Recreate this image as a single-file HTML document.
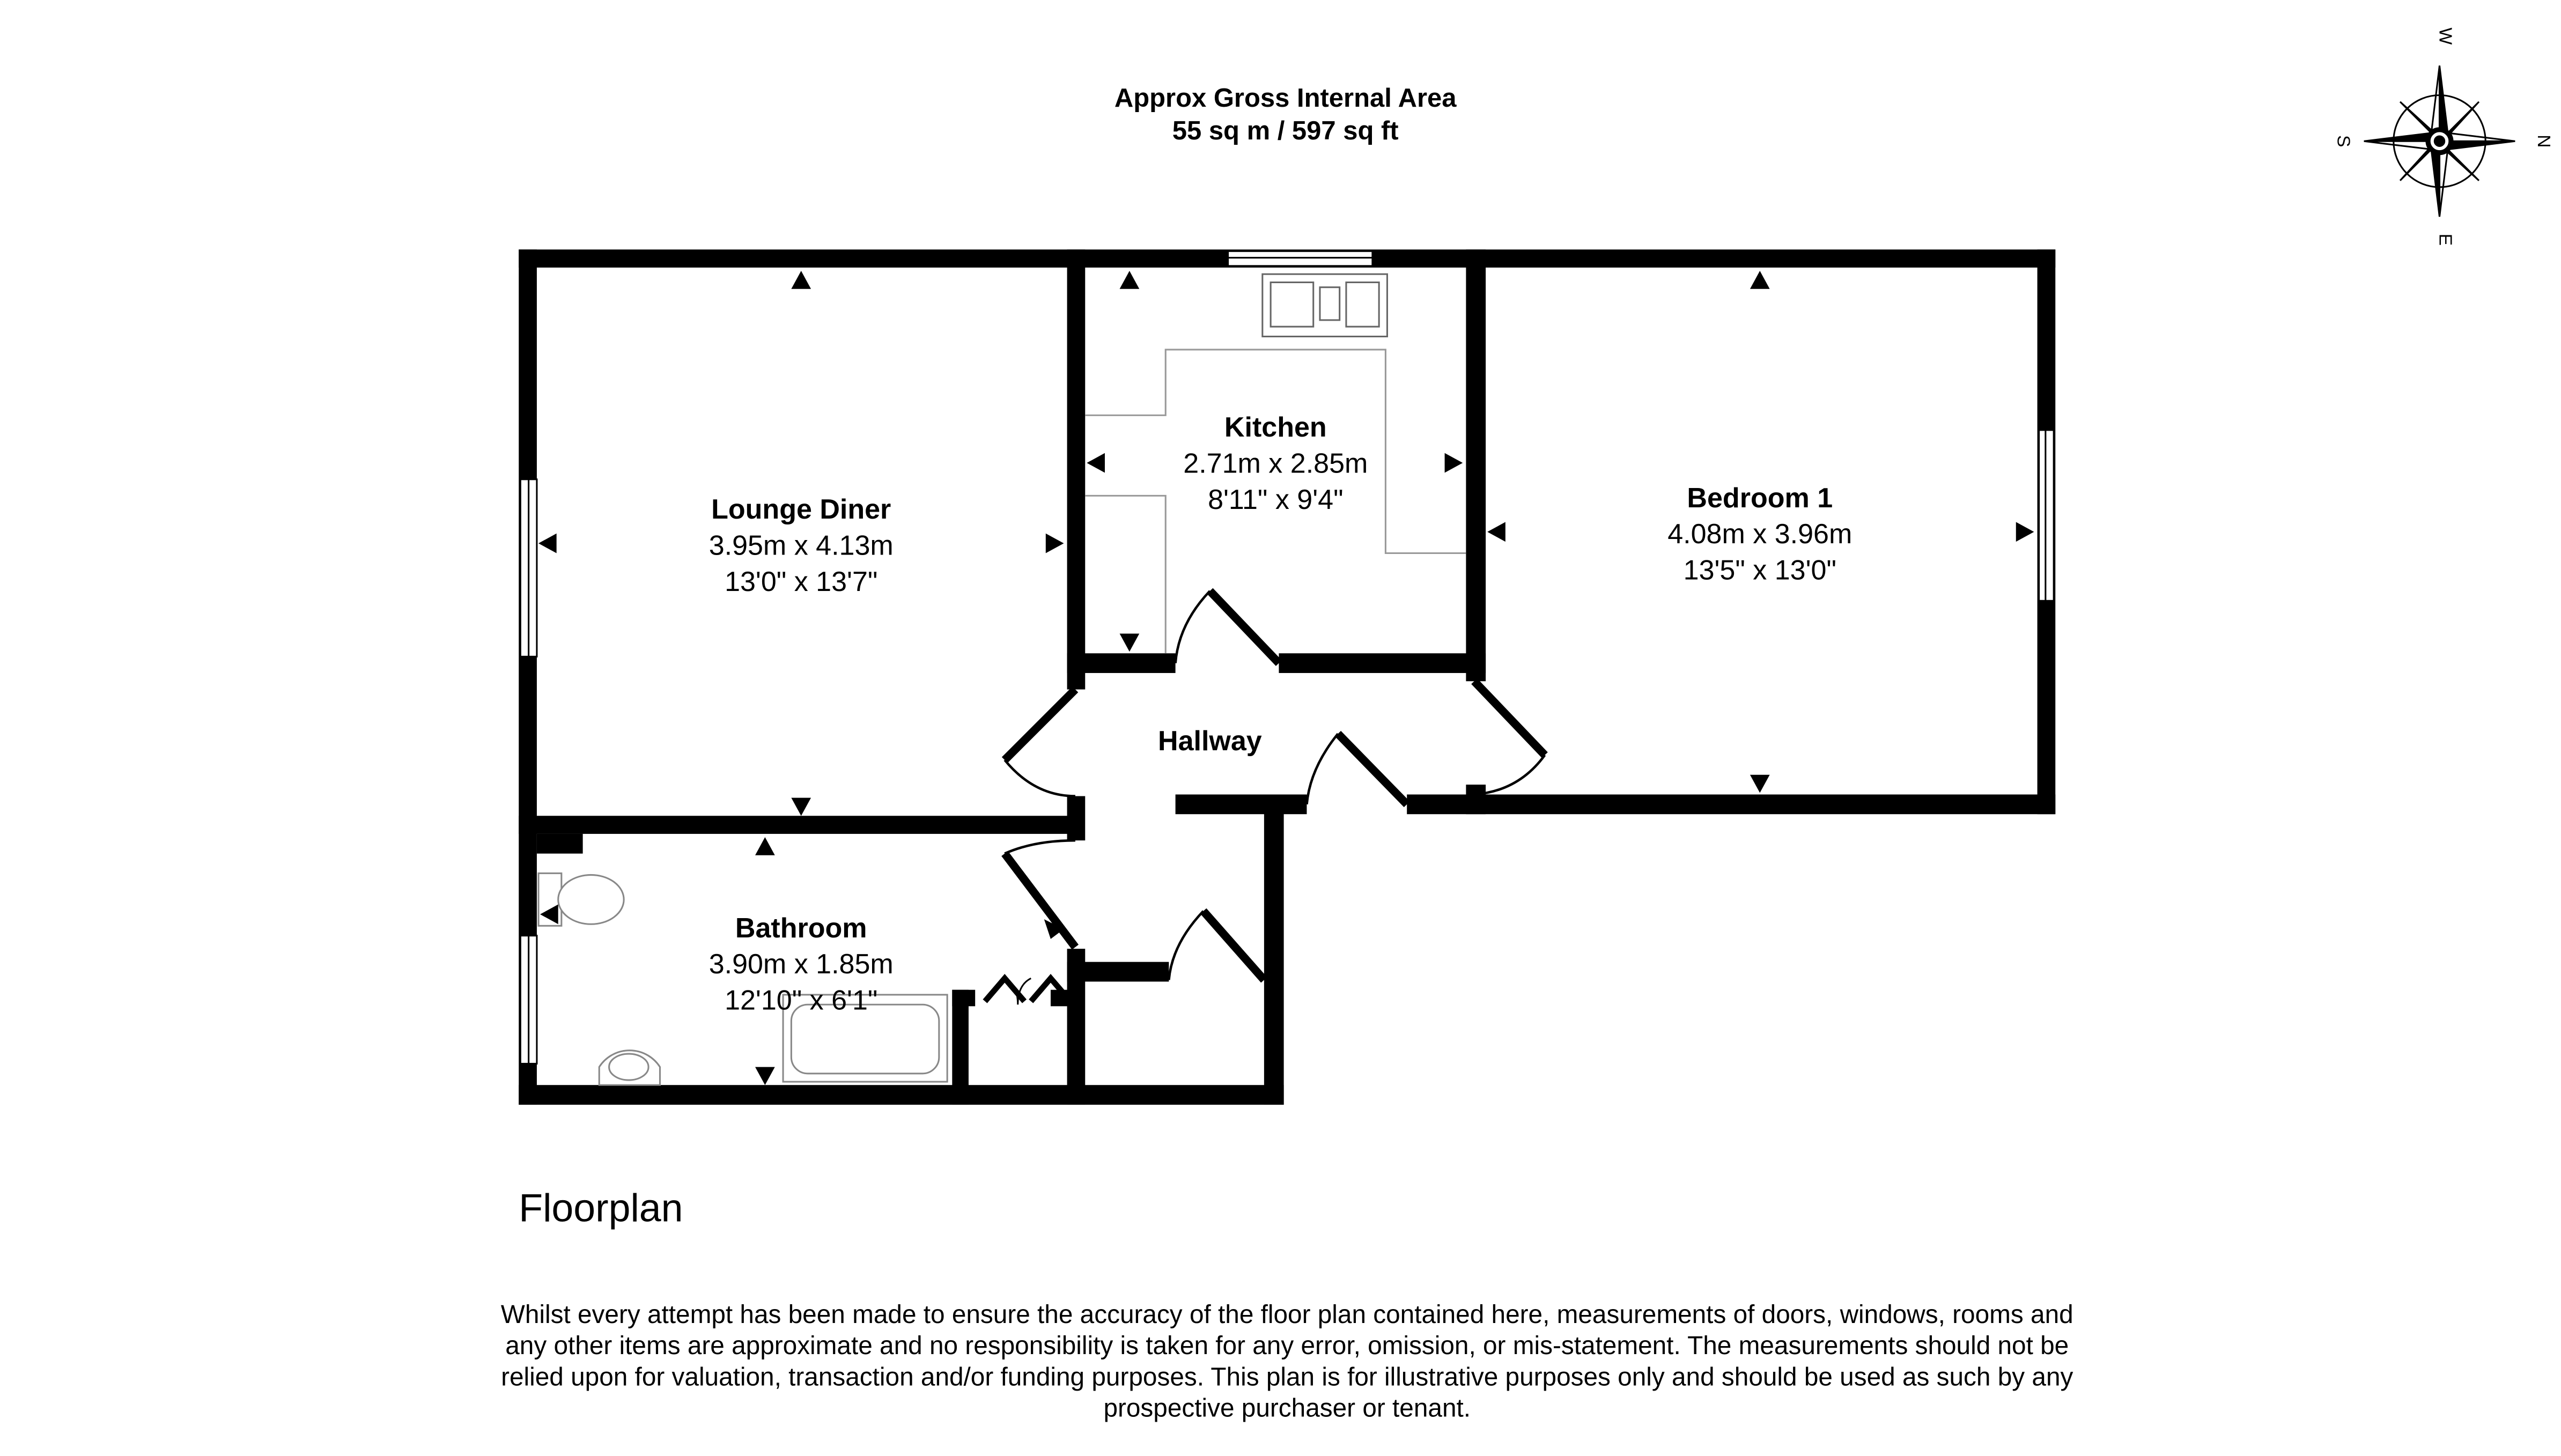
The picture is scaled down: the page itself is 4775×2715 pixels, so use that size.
<!DOCTYPE html>
<html><head><meta charset="utf-8"><style>
html,body{margin:0;padding:0;background:#fff;}
svg{display:block;}
text{font-family:"Liberation Sans",Arial,sans-serif;fill:#000;}
</style></head><body>
<svg width="4775" height="2715" viewBox="0 0 1560 887" preserveAspectRatio="none" xmlns="http://www.w3.org/2000/svg">
<rect width="1560" height="887" fill="#fff"/>
<text x="783" y="65" font-size="16" font-weight="bold" text-anchor="middle">Approx Gross Internal Area</text>
<text x="783" y="85" font-size="16" font-weight="bold" text-anchor="middle">55 sq m / 597 sq ft</text>
<!-- compass -->
<g transform="translate(1486,86)" stroke="#000" stroke-width="1">
<polygon points="0,-46 5,-5 0,0" fill="#000"/><polygon points="0,-46 -5,-5 0,0" fill="#fff"/>
<polygon points="0,46 -5,5 0,0" fill="#000"/><polygon points="0,46 5,5 0,0" fill="#fff"/>
<polygon points="46,0 5,5 0,0" fill="#000"/><polygon points="46,0 5,-5 0,0" fill="#fff"/>
<polygon points="-46,0 -5,-5 0,0" fill="#000"/><polygon points="-46,0 -5,5 0,0" fill="#fff"/>
<polygon points="24,-24 4,-2 0,0" fill="#000"/><polygon points="-24,24 -4,2 0,0" fill="#000"/>
<polygon points="24,24 2,4 0,0" fill="#000"/><polygon points="-24,-24 -2,-4 0,0" fill="#000"/>
<circle r="28" fill="none"/><circle r="7" fill="#fff" stroke-width="3"/><circle r="3" fill="#000"/>
</g>
<text x="1486" y="22" font-size="11" text-anchor="middle" transform="rotate(90 1486 22)">W</text>
<text x="1486" y="146" font-size="11" text-anchor="middle" transform="rotate(90 1486 146)">E</text>
<text x="1546" y="86" font-size="11" text-anchor="middle" transform="rotate(90 1546 86)">N</text>
<text x="1424" y="86" font-size="11" text-anchor="middle" transform="rotate(90 1424 86)">S</text>
<!-- walls -->
<g fill="#000">
<rect x="316" y="152" width="936" height="11"/>
<rect x="316" y="152" width="11" height="521"/>
<rect x="316" y="497" width="344" height="11"/>
<rect x="650" y="152" width="11" height="268"/>
<rect x="650" y="485" width="11" height="27"/>
<rect x="650" y="578" width="11" height="95"/>
<rect x="650" y="398" width="66" height="12"/>
<rect x="779" y="398" width="126" height="12"/>
<rect x="893" y="152" width="12" height="263"/>
<rect x="1241" y="152" width="11" height="344"/>
<rect x="857" y="484" width="395" height="12"/>
<rect x="893" y="478" width="12" height="18"/>
<rect x="716" y="484" width="80" height="12"/>
<rect x="770" y="490" width="12" height="183"/>
<rect x="316" y="661" width="466" height="12"/>
<rect x="650" y="586" width="62" height="12"/>
<rect x="580" y="603" width="10" height="70"/>
<rect x="580" y="603" width="14" height="10"/>
<rect x="640" y="603" width="12" height="10"/>
<rect x="327" y="508" width="28" height="12"/>
</g>
<!-- windows -->
<g fill="#fff" stroke="#000" stroke-width="1">
<rect x="317" y="292" width="10" height="108"/><line x1="322" y1="292" x2="322" y2="400"/>
<rect x="1242" y="262" width="9" height="104"/><line x1="1246" y1="262" x2="1246" y2="366"/>
<rect x="748" y="153" width="88" height="9"/><line x1="748" y1="157" x2="836" y2="157"/>
<rect x="317" y="570" width="10" height="78"/><line x1="322" y1="570" x2="322" y2="648"/>
</g>
<!-- doors -->
<g stroke="#000" fill="none">
<line x1="655" y1="420" x2="612" y2="463" stroke-width="5"/><path d="M612,463 Q630,485 655,485" stroke-width="1.5"/>
<line x1="655" y1="577" x2="612" y2="520" stroke-width="5"/><path d="M612,520 Q630,512 655,512" stroke-width="1.5"/>
<line x1="779" y1="404" x2="737" y2="360" stroke-width="5"/><path d="M737,360 Q718,380 716,404" stroke-width="1.5"/>
<line x1="898" y1="415" x2="941" y2="460" stroke-width="5"/><path d="M941,460 Q925,482 898,484" stroke-width="1.5"/>
<line x1="857" y1="490" x2="815" y2="447" stroke-width="5"/><path d="M815,447 Q798,468 796,490" stroke-width="1.5"/>
<line x1="770" y1="597" x2="733" y2="555" stroke-width="5"/><path d="M733,555 Q714,575 712,597" stroke-width="1.5"/>
<path d="M600,610 L612,596 L624,610 M628,610 L640,596 L652,610" stroke-width="3.5"/>
<path d="M612,596 Q620,600 620,612 Q620,600 628,596" stroke-width="1"/>
</g>
<!-- kitchen units -->
<g stroke="#999" fill="none" stroke-width="1">
<path d="M661,253 H710 V213 H844 V337 H893"/>
<path d="M661,302 H710 V398"/>
<rect x="769" y="167" width="76" height="38" fill="#fff" stroke="#666"/>
<rect x="774" y="172" width="26" height="27" stroke="#666"/><rect x="804" y="175" width="12" height="20" stroke="#666"/>
<rect x="820" y="172" width="20" height="27" stroke="#666"/>
</g>
<!-- bathroom fixtures -->
<g stroke="#888" fill="#fff" stroke-width="1">
<rect x="477" y="606" width="100" height="53"/><rect x="482" y="612" width="90" height="42" rx="10"/>
<rect x="328" y="532" width="14" height="32"/><ellipse cx="360" cy="548" rx="20" ry="15"/>
<path d="M365,661 V650 A22,22 0 0 1 402,650 V661 Z"/><ellipse cx="383" cy="650" rx="12" ry="8"/>
</g>
<!-- triangles -->
<g fill="#000">
<polygon points="482,176 494,176 488,165"/>
<polygon points="482,486 494,486 488,497"/>
<polygon points="339,325 339,337 328,331"/>
<polygon points="637,325 637,337 648,331"/>
<polygon points="682,176 694,176 688,165"/>
<polygon points="682,386 694,386 688,397"/>
<polygon points="673,276 673,288 662,282"/>
<polygon points="880,276 880,288 891,282"/>
<polygon points="1066,176 1078,176 1072,165"/>
<polygon points="1066,472 1078,472 1072,483"/>
<polygon points="917,318 917,330 906,324"/>
<polygon points="1228,318 1228,330 1239,324"/>
<polygon points="460,521 472,521 466,510"/>
<polygon points="460,650 472,650 466,661"/>
<polygon points="340,551 340,563 329,557"/>
<polygon points="636,560 640,572 648,566"/>
</g>
<!-- labels -->
<g font-size="17" text-anchor="middle">
<text x="488" y="316" font-weight="bold">Lounge Diner</text><text x="488" y="338">3.95m x 4.13m</text><text x="488" y="360">13'0" x 13'7"</text>
<text x="777" y="266" font-weight="bold">Kitchen</text><text x="777" y="288">2.71m x 2.85m</text><text x="777" y="310">8'11" x 9'4"</text>
<text x="1072" y="309" font-weight="bold">Bedroom 1</text><text x="1072" y="331">4.08m x 3.96m</text><text x="1072" y="353">13'5" x 13'0"</text>
<text x="737" y="457" font-weight="bold">Hallway</text>
<text x="488" y="571" font-weight="bold">Bathroom</text><text x="488" y="593">3.90m x 1.85m</text><text x="488" y="615">12'10" x 6'1"</text>
</g>
<text x="316" y="744" font-size="24">Floorplan</text>
<g font-size="15.6" text-anchor="middle">
<text x="784" y="806">Whilst every attempt has been made to ensure the accuracy of the floor plan contained here, measurements of doors, windows, rooms and</text>
<text x="784" y="825">any other items are approximate and no responsibility is taken for any error, omission, or mis-statement. The measurements should not be</text>
<text x="784" y="844">relied upon for valuation, transaction and/or funding purposes. This plan is for illustrative purposes only and should be used as such by any</text>
<text x="784" y="863">prospective purchaser or tenant.</text>
</g>
</svg>
</body></html>
